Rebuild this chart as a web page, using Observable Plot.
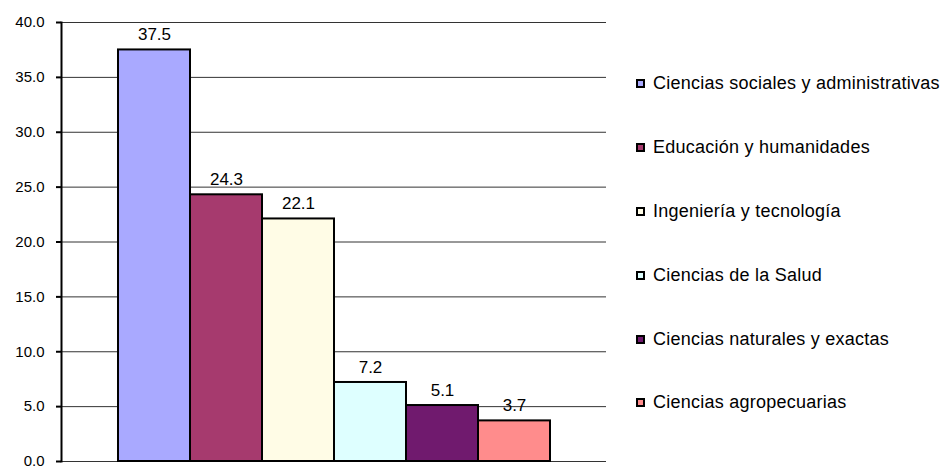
<!DOCTYPE html>
<html>
<head>
<meta charset="utf-8">
<script src="https://cdn.jsdelivr.net/npm/d3@7"></script>
<script src="https://cdn.jsdelivr.net/npm/@observablehq/plot@0.6"></script>
<style>
  html, body { margin: 0; padding: 0; background: #fff; }
  #wrap { position: relative; width: 943px; height: 466px; overflow: hidden; font-family: "Liberation Sans", Arial, sans-serif; }
  #legend { position: absolute; left: 636px; top: 52px; }
  .row { height: 63.8px; display: flex; align-items: center; }
  .sw { width: 9px; height: 9px; box-sizing: border-box; border: 2px solid #000; margin-right: 8px; flex: none; }
  .lab { font-size: 18px; color: #000; white-space: nowrap; letter-spacing: 0.25px; }
</style>
</head>
<body>
<div id="wrap"></div>
<script>
const categories = [
  "Ciencias sociales y administrativas",
  "Educación y humanidades",
  "Ingeniería y tecnología",
  "Ciencias de la Salud",
  "Ciencias naturales y exactas",
  "Ciencias agropecuarias"
];
const values = [37.5, 24.3, 22.1, 7.2, 5.1, 3.7];
const colors = ["#A9A9FF", "#A63A6E", "#FFFCE6", "#DEFFFF", "#701A6E", "#FF8C8C"];
const yTicks = [0, 5, 10, 15, 20, 25, 30, 35, 40];

const data = categories.map((c, i) => ({cat: c, value: values[i]}));

const chart = Plot.plot({
  width: 943,
  height: 466,
  marginLeft: 61,
  marginRight: 337,
  marginTop: 22,
  marginBottom: 5,
  style: {fontFamily: "'Liberation Sans', Arial, sans-serif", background: "#fff", color: "#000"},
  x: {domain: categories, paddingInner: 0, paddingOuter: 0.75, axis: null},
  y: {domain: [0, 40]},
  color: {domain: categories, range: colors},
  marks: [
    Plot.gridY(yTicks, {stroke: "#333", strokeOpacity: 1, strokeWidth: 1}),
    Plot.barY(data, {x: "cat", y: "value", fill: "cat", stroke: "#000", strokeWidth: 2}),
    Plot.text(data, {x: "cat", y: "value", text: d => d.value.toFixed(1), dy: -15, fontSize: 17, fill: "#000"}),
    Plot.axisY(yTicks, {tickFormat: d => d.toFixed(1), tickSize: 5, tickPadding: 12, fontSize: 15, stroke: "#000", strokeWidth: 2, label: null, style: "letter-spacing: 1.3px"}),
    Plot.frame({anchor: "left", stroke: "#000", strokeWidth: 2})
  ]
});
document.getElementById("wrap").appendChild(chart);

const legend = document.createElement("div");
legend.id = "legend";
categories.forEach((c, i) => {
  const row = document.createElement("div");
  row.className = "row";
  const sw = document.createElement("div");
  sw.className = "sw";
  sw.style.background = colors[i];
  const lab = document.createElement("span");
  lab.className = "lab";
  lab.textContent = c;
  row.appendChild(sw);
  row.appendChild(lab);
  legend.appendChild(row);
});
document.getElementById("wrap").appendChild(legend);
</script>
</body>
</html>
